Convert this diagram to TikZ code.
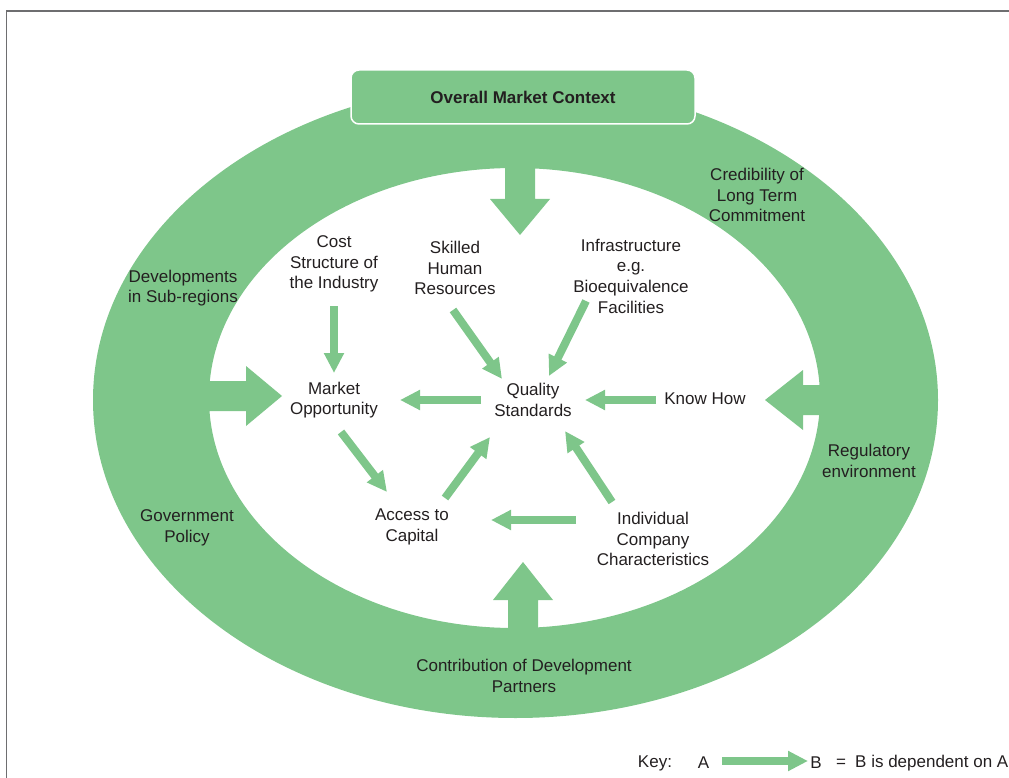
\documentclass[tikz,border=0pt]{standalone}
\usepackage{fontspec}
\setmainfont{Liberation Sans}
\usetikzlibrary{arrows.meta,calc}
\definecolor{ringgreen}{RGB}{126,198,138}
\definecolor{txt}{RGB}{35,31,32}
\definecolor{framegray}{RGB}{110,110,112}
\begin{document}
\begin{tikzpicture}[x=1pt,y=-1pt,
  lbl/.style={font=\fontsize{17}{20.7}\selectfont, text=txt, align=center, inner sep=0pt},
  dep/.style={draw=ringgreen, line width=8pt, -{Triangle[width=19pt,length=20pt]}},
  bigarrow/.style={fill=ringgreen}]
\useasboundingbox (0,0) rectangle (1009,778);
% frame
\draw[framegray, line width=1.5pt] (6.5,778) -- (6.5,11) -- (1009,11);
% ring
\fill[ringgreen, even odd rule] (515.5,400) ellipse [x radius=422.5, y radius=318]
  (514.5,398) ellipse [x radius=305.5, y radius=230];
% big arrows
\fill[bigarrow] (505,150) -- (535,150) -- (535,199) -- (550,199) -- (520,235) -- (490,199) -- (505,199) -- cycle;
\fill[bigarrow] (150,381) -- (246,381) -- (246,366) -- (282,396) -- (246,426) -- (246,411) -- (150,411) -- cycle;
\fill[bigarrow] (880,385) -- (803,385) -- (803,370) -- (765,400) -- (803,430) -- (803,415) -- (880,415) -- cycle;
\fill[bigarrow] (508,650) -- (508,600) -- (493,600) -- (523,562) -- (553,600) -- (538,600) -- (538,650) -- cycle;
% top box
\node[draw=white, line width=1.5pt, fill=ringgreen, rounded corners=8pt,
  minimum width=344pt, minimum height=54pt, inner sep=0pt,
  font=\bfseries\fontsize{17}{20}\selectfont, text=txt] (overall) at (523,97) {Overall Market Context};
% ring labels
\node[lbl] (cred) at (757,195) {Credibility of\\Long Term\\Commitment};
\node[lbl] (devsub) at (183,288) {Developments\\in Sub-regions};
\node[lbl] (gov) at (187,528) {Government\\Policy};
\node[lbl] (reg) at (869,461) {Regulatory\\environment};
\node[lbl] (contrib) at (524,676) {Contribution of Development\\Partners};
% inner labels
\node[lbl] (cost) at (334,264) {Cost\\Structure of\\the Industry};
\node[lbl] (skilled) at (455,268) {Skilled\\Human\\Resources};
\node[lbl] (infra) at (631,276) {Infrastructure\\e.g.\\Bioequivalence\\Facilities};
\node[lbl] (market) at (334,400) {Market\\Opportunity};
\node[lbl] (quality) at (533,400) {Quality\\Standards};
\node[lbl] (knowhow) at (705,399) {Know How};
\node[lbl] (access) at (412,527) {Access to\\Capital};
\node[lbl] (indiv) at (653,539) {Individual\\Company\\Characteristics};
% dependency arrows
\draw[dep] ([shift={(0,42)}]cost.center) -- ([shift={(0,-27)}]market.center);
\draw[dep] ([shift={(-2,42)}]skilled.center) -- ([shift={(-31,-21)}]quality.center);
\draw[dep] ([shift={(-45,25)}]infra.center) -- ([shift={(16,-24)}]quality.center);
\draw[dep] ([shift={(-52,0)}]quality.center) -- ([shift={(66,0)}]market.center);
\draw[dep] ([shift={(-49,1)}]knowhow.center) -- ([shift={(52,0)}]quality.center);
\draw[dep] ([shift={(7,32)}]market.center) -- ([shift={(-25,-35)}]access.center);
\draw[dep] ([shift={(33,-29)}]access.center) -- ([shift={(-43,37)}]quality.center);
\draw[dep] ([shift={(-41,-37)}]indiv.center) -- ([shift={(32,31)}]quality.center);
\draw[dep] ([shift={(-77,-19)}]indiv.center) -- ([shift={(79,-7)}]access.center);
% key
\node[lbl] (key) at (655,763) {Key:};
\node[lbl] (keyA) at (703.5,763) {A};
\node[lbl] (keyB) at (816,763) {B};
\node[lbl] (keyeq) at (841,763) {=};
\node[lbl, anchor=west] (keytxt) at (855,763) {B is dependent on A};
\draw[dep] ([shift={(18.5,-2)}]keyA.center) -- ([shift={(-8,-2)}]keyB.center);
\end{tikzpicture}
\end{document}
